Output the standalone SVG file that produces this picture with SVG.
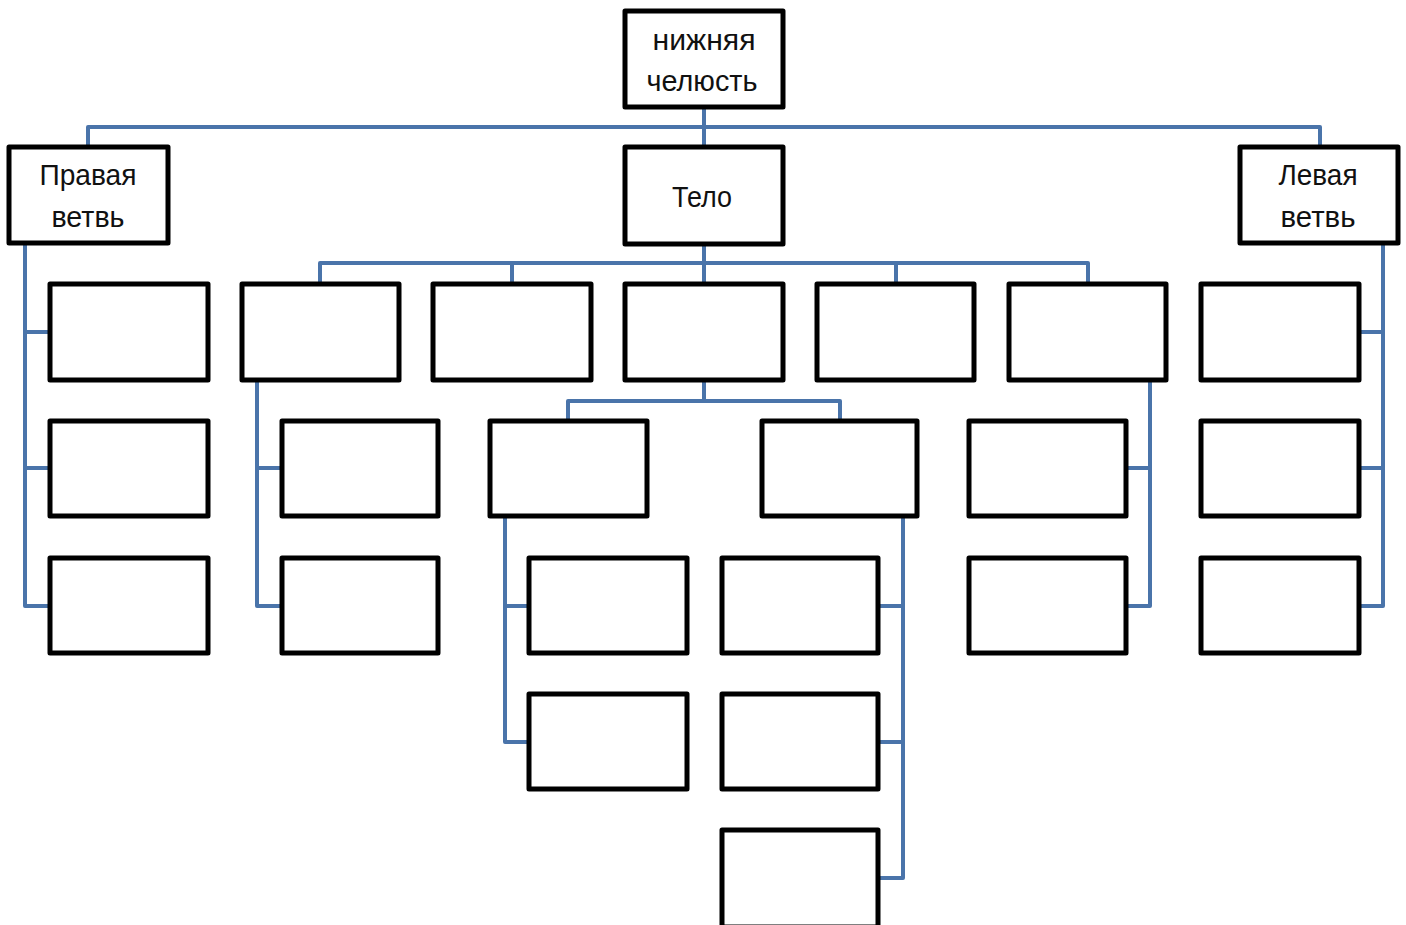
<svg xmlns="http://www.w3.org/2000/svg" width="1406" height="925" viewBox="0 0 1406 925">
<style>
.c{fill:none;stroke:#4a74aa;stroke-width:4;stroke-linejoin:round;stroke-linecap:butt}
.b{fill:#fff;stroke:#000;stroke-width:5;stroke-linejoin:round}
.t{font-family:"Liberation Sans",Arial,sans-serif;font-size:30px;fill:#111;text-anchor:middle}
</style>
<rect width="1406" height="925" fill="#fff"/>
<g id="connectors" class="c">
<path d="M704 109V145M88 145V127H1320V145"/>
<path d="M704 246V282M320 282V263H1088V282M512 263V282M896 263V282"/>
<path d="M25 245V606H48M25 332H48M25 468H48"/>
<path d="M257 381V606H280M257 468H280"/>
<path d="M704 381V401M568 419V401H840V419"/>
<path d="M505 518V742H527M505 606H527"/>
<path d="M903 518V878H880M880 606H903M880 742H903"/>
<path d="M1150 381V606H1128M1128 468H1150"/>
<path d="M1383 245V606H1360M1360 332H1383M1360 468H1383"/>
</g>
<g id="n-root"><rect class="b" x="625" y="11" width="158" height="96"/><text class="t" x="704" y="50" textLength="103" lengthAdjust="spacingAndGlyphs">нижняя</text><text class="t" x="702" y="91" textLength="111" lengthAdjust="spacingAndGlyphs">челюсть</text></g>
<g id="n-right"><rect class="b" x="9" y="147" width="159" height="96"/><text class="t" x="88" y="185" textLength="97" lengthAdjust="spacingAndGlyphs">Правая</text><text class="t" x="88" y="227" textLength="73" lengthAdjust="spacingAndGlyphs">ветвь</text></g>
<g id="n-body"><rect class="b" x="625" y="147" width="158" height="97"/><text class="t" x="702" y="207" textLength="60" lengthAdjust="spacingAndGlyphs">Тело</text></g>
<g id="n-left"><rect class="b" x="1240" y="147" width="158" height="96"/><text class="t" x="1318" y="185" textLength="79" lengthAdjust="spacingAndGlyphs">Левая</text><text class="t" x="1318" y="227" textLength="75" lengthAdjust="spacingAndGlyphs">ветвь</text></g>
<g id="n-r1"><rect class="b" x="50" y="284" width="158" height="96"/></g>
<g id="n-r2"><rect class="b" x="50" y="421" width="158" height="95"/></g>
<g id="n-r3"><rect class="b" x="50" y="558" width="158" height="95"/></g>
<g id="n-b1"><rect class="b" x="242" y="284" width="157" height="96"/></g>
<g id="n-b2"><rect class="b" x="433" y="284" width="158" height="96"/></g>
<g id="n-b3"><rect class="b" x="625" y="284" width="158" height="96"/></g>
<g id="n-b4"><rect class="b" x="817" y="284" width="157" height="96"/></g>
<g id="n-b5"><rect class="b" x="1009" y="284" width="157" height="96"/></g>
<g id="n-l1"><rect class="b" x="1201" y="284" width="158" height="96"/></g>
<g id="n-l2"><rect class="b" x="1201" y="421" width="158" height="95"/></g>
<g id="n-l3"><rect class="b" x="1201" y="558" width="158" height="95"/></g>
<g id="n-b1a"><rect class="b" x="282" y="421" width="156" height="95"/></g>
<g id="n-b1b"><rect class="b" x="282" y="558" width="156" height="95"/></g>
<g id="n-b3a"><rect class="b" x="490" y="421" width="157" height="95"/></g>
<g id="n-b3b"><rect class="b" x="762" y="421" width="155" height="95"/></g>
<g id="n-b3a1"><rect class="b" x="529" y="558" width="158" height="95"/></g>
<g id="n-b3a2"><rect class="b" x="529" y="694" width="158" height="95"/></g>
<g id="n-b3b1"><rect class="b" x="722" y="558" width="156" height="95"/></g>
<g id="n-b3b2"><rect class="b" x="722" y="694" width="156" height="95"/></g>
<g id="n-b3b3"><rect class="b" x="722" y="830" width="156" height="97"/></g>
<g id="n-b5a"><rect class="b" x="969" y="421" width="157" height="95"/></g>
<g id="n-b5b"><rect class="b" x="969" y="558" width="157" height="95"/></g>
</svg>
